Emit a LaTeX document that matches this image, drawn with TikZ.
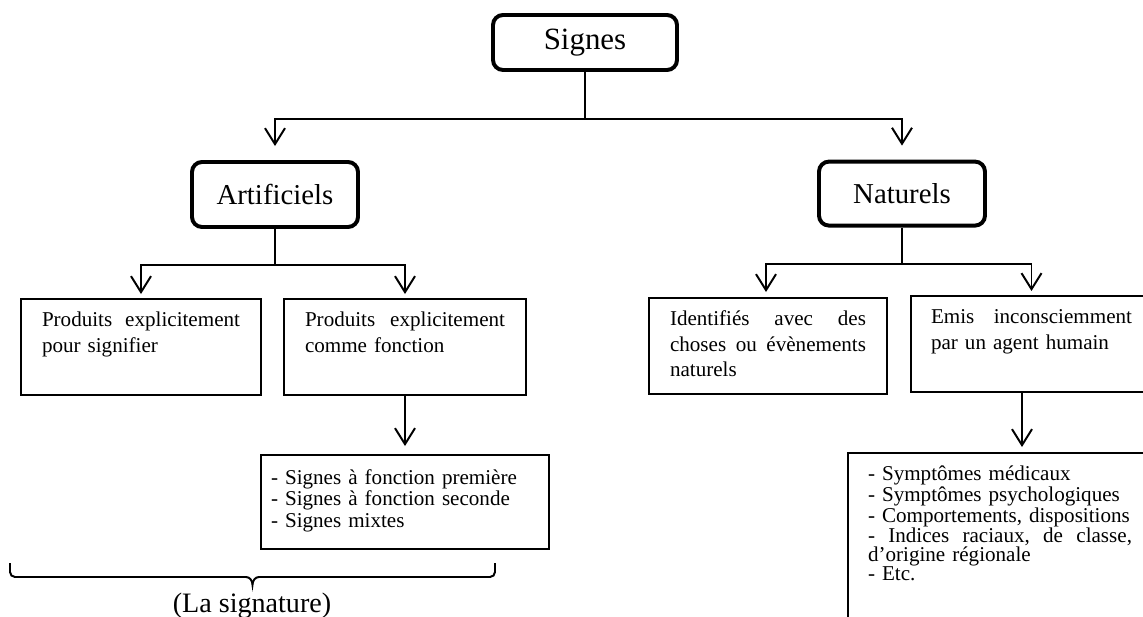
\documentclass[tikz,border=0pt]{standalone}
\usepackage{fontspec}
\setmainfont{Liberation Serif}
\usetikzlibrary{arrows.meta}

\tikzset{
  titre/.style={draw, line width=2.8pt, rounded corners=0.25cm,
    font=\fontsize{20.5}{24}\selectfont},
  boite/.style={draw, line width=1.4pt, align=left, inner ysep=0pt,
    inner xsep=0.525cm, text height=0.7cm, text depth=1.7cm},
  texte/.style={font=\fontsize{15}{17.8}\selectfont},
  trait/.style={line width=1.4pt},
  fleche/.style={trait, -{Straight Barb[length=4mm,width=5mm]}},
}

\begin{document}
\begin{tikzpicture}
\useasboundingbox (0,0) rectangle (28.575,-15.425);
\clip (0,0) rectangle (28.575,-15.425);

% titres
\node[titre, minimum width=4.6cm, minimum height=1.375cm,
  font=\fontsize{22}{26}\selectfont] (signes) at (14.625,-1.0625) {Signes};
\node[titre, minimum width=4.15cm, minimum height=1.625cm] (artificiels) at (6.875,-4.8625) {Artificiels};
\node[titre, minimum width=4.15cm, minimum height=1.6cm]   (naturels)    at (22.55,-4.84)   {Naturels};

% boites
\node[boite, texte, text width=4.95cm] (signifier) at (3.525,-8.675)
  {Produits\hfill explicitement\\ pour signifier};
\node[boite, texte, text width=5cm] (fonction) at (10.125,-8.675)
  {Produits\hfill explicitement\\ comme fonction};
\node[boite, font=\fontsize{15}{15.3}\selectfont, inner xsep=0.25cm,
  text width=6.7cm, text height=0.725cm, text depth=1.625cm] (liste) at (10.125,-12.55)
  {- Signes à fonction première\\ - Signes à fonction seconde\\ - Signes mixtes};
\node[boite, texte, text width=4.9cm] (choses) at (19.2,-8.65)
  {Identifiés\hfill avec\hfill des\\ choses\hfill ou\hfill évènements\\ naturels};
\node[boite, texte, inner xsep=0.5cm, text width=5.025cm] (humain) at (25.7875,-8.6)
  {Emis\hfill inconsciemment\\ par un agent humain};
\node[boite, font=\fontsize{15}{13.5}\selectfont, inner xsep=0.5cm,
  text width=6.6cm, text depth=4.3cm] (symptomes) at (25.0,-13.825)
  {- Symptômes médicaux\\ - Symptômes psychologiques\\ - Comportements, dispositions\\
   -\hfill Indices\hfill raciaux,\hfill de\hfill classe,\\ d’origine régionale\\ - Etc.};

% fleches
\draw[trait] (signes.south) -- ++(0,-1.175) coordinate (s-fourche);
\draw[fleche, shorten >=0.35cm] (s-fourche) -| (artificiels.north);
\draw[fleche, shorten >=0.35cm] (s-fourche) -| (naturels.north);

\draw[trait] (artificiels.south) -- ++(0,-0.9) coordinate (a-fourche);
\draw[fleche, shorten >=0.1cm] (a-fourche) -| (signifier.north);
\draw[fleche, shorten >=0.1cm] (a-fourche) -| (fonction.north);
\draw[fleche, shorten >=0.2cm] (fonction.south) -- (liste.north);

\draw[trait] (naturels.south) -- ++(0,-0.91) coordinate (n-fourche);
\draw[fleche, shorten >=0.125cm] (n-fourche) -| ([xshift=-0.05cm]choses.north);
\draw[fleche, shorten >=0.1cm] (n-fourche) -| (humain.north);
\draw[fleche, shorten >=0.125cm] (humain.south) ++(-0.2375,0) coordinate (h-sortie)
  -- (h-sortie |- symptomes.north);

% accolade
\coordinate (acc-g) at (0.25,-14.075);
\coordinate (acc-d) at (12.375,-14.075);
\coordinate (acc-p) at (6.3125,-14.625);
\draw[trait] (acc-g) -- (0.25,-14.3) to[out=-90,in=180] (0.375,-14.425)
  -- (6.15,-14.425) to[out=0,in=90] (acc-p) to[out=90,in=180] (6.475,-14.425)
  -- (12.25,-14.425) to[out=0,in=-90] (12.375,-14.3) -- (acc-d);
\node[anchor=base, font=\fontsize{20}{24}\selectfont] (signature) at (6.3,-15.3) {(La signature)};
\end{tikzpicture}
\end{document}
